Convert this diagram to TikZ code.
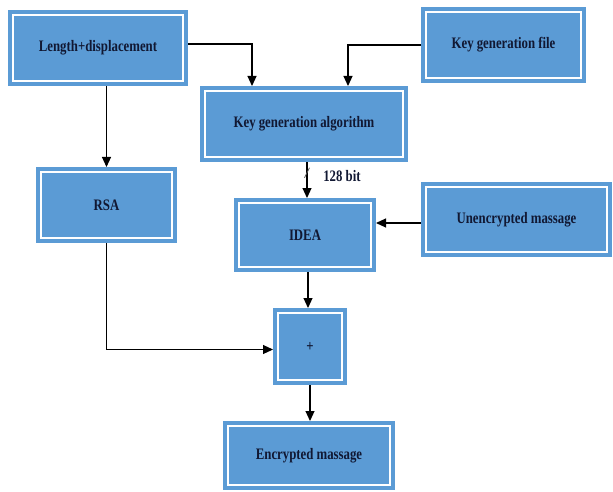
\documentclass[tikz,border=0pt]{standalone}
\usepackage{fontspec}
\setmainfont{Liberation Serif}[FakeStretch=0.8]
\usetikzlibrary{arrows.meta}
\definecolor{boxblue}{HTML}{5B9BD5}
\definecolor{txtnavy}{HTML}{111833}
\begin{document}
\begin{tikzpicture}[x=1pt,y=-1pt,
  blk/.style={fill=boxblue,draw=boxblue,double=white,double distance=2pt,line width=4pt,
    outer sep=5pt,inner sep=0pt,text=txtnavy,font=\fontsize{16}{18}\selectfont\bfseries},
  lbl/.style={text=txtnavy,font=\fontsize{16}{18}\selectfont\bfseries},
  arr/.style={line width=1.1pt,-{Triangle[length=10pt,width=9pt]}}]
\useasboundingbox (0,0) rectangle (613,492);
\node[blk,minimum width=170pt,minimum height=66pt] (lend) at (98,48) {Length+displacement};
\node[blk,minimum width=155pt,minimum height=66pt] (kfile) at (503.5,45) {Key generation file};
\node[blk,minimum width=198pt,minimum height=66pt] (kalg) at (304,124) {Key generation algorithm};
\node[blk,minimum width=131pt,minimum height=66pt] (rsa) at (106.5,205) {RSA};
\node[blk,minimum width=132pt,minimum height=64pt] (idea) at (305,235) {IDEA};
\node[blk,minimum width=181pt,minimum height=65pt] (unenc) at (516.5,219.5) {Unencrypted massage};
\node[blk,minimum width=64pt,minimum height=67pt] (plus) at (310,346.5) {+};
\node[blk,minimum width=162pt,minimum height=59pt] (enc) at (309,455.5) {Encrypted massage};
\node[lbl] (bits) at (342,176) {128 bit};
\draw[arr] ([yshift=4pt]lend.east) -| ([xshift=-52pt]kalg.north);
\draw[arr] (kfile.west) -| ([xshift=44pt]kalg.north);
\draw[arr] (lend.south -| rsa.north) -- (rsa.north);
\draw[arr] ([xshift=3pt]kalg.south) -- coordinate[pos=.3] (cut) ([xshift=3pt]kalg.south |- idea.north);
\draw[line width=.8pt,gray!70!black] (cut) ++(-2.5,5) -- ++(5,-10);
\draw[arr] (unenc.west |- 0,223) -- (idea.east |- 0,223);
\draw[arr] ([xshift=3pt]idea.south) -- ([xshift=3pt]idea.south |- plus.north);
\draw[arr] (rsa.south) |- ([yshift=-3pt]plus.west);
\draw[arr] (plus.south) -- (plus.south |- enc.north);
\end{tikzpicture}
\end{document}
